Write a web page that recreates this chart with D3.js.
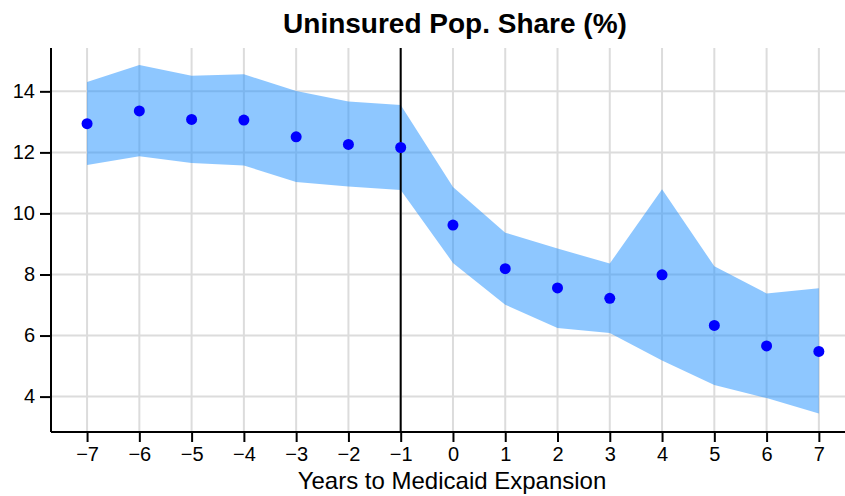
<!DOCTYPE html>
<html lang="en">
<head>
    <meta charset="utf-8">
    <title>Uninsured Pop. Share</title>
    <script src="https://d3js.org/d3.v7.min.js"></script>
    <style>
        html, body {
            margin: 0;
            padding: 0;
            background: white;
        }
        text {
            font-family: "Liberation Sans", Arial, sans-serif;
            fill: black;
        }
        .grid line {
            stroke: #dcdcdc;
            stroke-width: 2px;
        }
    </style>
</head>
<body>
<script type="text/javascript">

    // data
    var years = [-7, -6, -5, -4, -3, -2, -1, 0, 1, 2, 3, 4, 5, 6, 7];
    var estimate = [12.94, 13.36, 13.08, 13.06, 12.51, 12.26, 12.16, 9.62, 8.19, 7.56, 7.22, 7.99, 6.33, 5.66, 5.48];
    var upper = [14.31, 14.86, 14.51, 14.56, 14.01, 13.67, 13.55, 10.87, 9.37, 8.85, 8.36, 10.79, 8.27, 7.38, 7.55];
    var lower = [11.59, 11.87, 11.65, 11.57, 11.03, 10.88, 10.77, 8.38, 7.01, 6.25, 6.08, 5.18, 4.38, 3.95, 3.45];
    var yTicks = [4, 6, 8, 10, 12, 14];
    var eventYear = -1;

    var w = 845;
    var h = 496;
    var mLeft = 51, mRight = 845, mTop = 48, mBottom = 432;

    var xScale = d3.scaleLinear()
        .domain([-7.69, 7.5])
        .range([mLeft, mRight]);

    var yScale = d3.scaleLinear()
        .domain([2.84, 15.42])
        .range([mBottom, mTop]);

    var svg = d3.select("body")
        .append("svg")
        .attr("width", w)
        .attr("height", h);

    // grid
    var grid = svg.append("g").attr("class", "grid");
    grid.selectAll("line.v")
        .data(years)
        .enter().append("line")
        .attr("class", "v")
        .attr("x1", function(d) { return xScale(d); })
        .attr("x2", function(d) { return xScale(d); })
        .attr("y1", mTop)
        .attr("y2", mBottom);
    grid.selectAll("line.h")
        .data(yTicks)
        .enter().append("line")
        .attr("class", "h")
        .attr("x1", mLeft)
        .attr("x2", mRight)
        .attr("y1", function(d) { return yScale(d); })
        .attr("y2", function(d) { return yScale(d); });

    // confidence band
    var area = d3.area()
        .x(function(d, i) { return xScale(years[i]); })
        .y0(function(d, i) { return yScale(lower[i]); })
        .y1(function(d, i) { return yScale(upper[i]); });

    svg.append("path")
        .datum(years)
        .attr("d", area)
        .attr("fill", "#1e90ff")
        .attr("fill-opacity", 0.5);

    // expansion line
    svg.append("line")
        .attr("x1", xScale(eventYear))
        .attr("x2", xScale(eventYear))
        .attr("y1", mTop)
        .attr("y2", mBottom)
        .attr("stroke", "black")
        .attr("stroke-width", 2);

    // points
    svg.selectAll("circle")
        .data(years)
        .enter().append("circle")
        .attr("cx", function(d) { return xScale(d); })
        .attr("cy", function(d, i) { return yScale(estimate[i]); })
        .attr("r", 5.5)
        .attr("fill", "#0000ff");

    // axes
    var xAxis = d3.axisBottom(xScale)
        .tickValues(years)
        .tickSize(10)
        .tickPadding(5)
        .tickFormat(function(d) { return d < 0 ? "\u2212" + Math.abs(d) : d; });

    var yAxis = d3.axisLeft(yScale)
        .tickValues(yTicks)
        .tickSize(11)
        .tickPadding(5);

    var gx = svg.append("g")
        .attr("transform", "translate(0," + mBottom + ")")
        .call(xAxis);
    gx.select(".domain").attr("d", "M" + mLeft + ",0H" + mRight).attr("stroke-width", 2);
    gx.selectAll(".tick line").attr("stroke-width", 2);
    gx.selectAll("text").attr("font-size", 20).attr("font-family", "Liberation Sans");

    var gy = svg.append("g")
        .attr("transform", "translate(" + mLeft + ",0)")
        .call(yAxis);
    gy.select(".domain").attr("d", "M0," + mTop + "V" + mBottom).attr("stroke-width", 2);
    gy.selectAll(".tick line").attr("stroke-width", 2);
    gy.selectAll("text").attr("font-size", 20).attr("font-family", "Liberation Sans");

    // titles
    svg.append("text")
        .attr("x", 455)
        .attr("y", 33)
        .attr("text-anchor", "middle")
        .attr("font-size", 28)
        .attr("font-weight", "bold")
        .text("Uninsured Pop. Share (%)");

    svg.append("text")
        .attr("x", 452)
        .attr("y", 489)
        .attr("text-anchor", "middle")
        .attr("font-size", 24)
        .text("Years to Medicaid Expansion");

</script>
</body>
</html>
